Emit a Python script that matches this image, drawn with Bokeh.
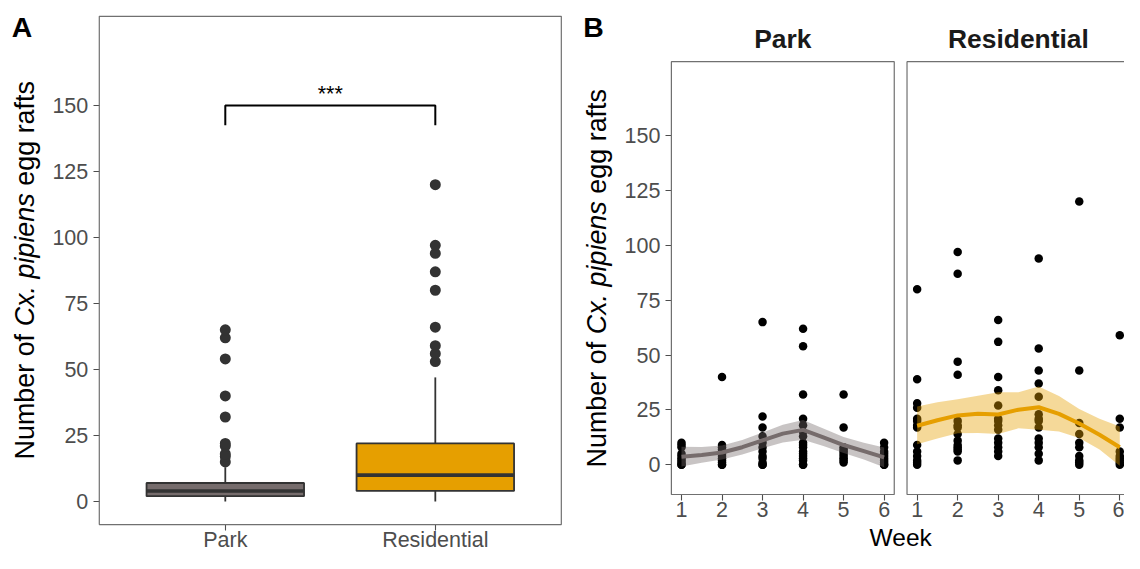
import math
from bokeh.plotting import figure
from bokeh.layouts import row
from bokeh.models import (FixedTicker, Label, BoxAnnotation, CustomJSTickFormatter,
                          ColumnDataSource)
from bokeh.embed import file_html
from bokeh.resources import INLINE

FONT = "Liberation Sans"

# ---------------- Panel A data (box-plot summary) ----------------
sites = ["Park", "Residential"]
box_q1 = [2, 4]
box_median = [4, 10]
box_q3 = [7, 22]
whisker_low = [0, 0]
whisker_high = [13, 47]
park_outliers = [15, 17, 18, 21, 22, 32, 40, 54, 62, 65]
res_outliers = [53, 56, 59, 66, 80, 87, 94, 97, 120]
sig_y = 150
sig_tip = 7.5
sig_label = "***"

# ---------------- Panel B data (egg rafts per week) ----------------
weeks = [1, 2, 3, 4, 5, 6]
park_wk1 = [10, 9, 8, 5, 4, 3, 2, 1, 0, 0]
park_wk2 = [40, 9, 8, 7, 6, 5, 4, 3, 2, 1, 0, 0]
park_wk3 = [65, 22, 17, 13, 10, 8, 6, 4, 3, 1, 0, 0]
park_wk4 = [62, 54, 32, 21, 18, 15, 13, 10, 9, 8, 6, 5, 4, 3, 2, 0, 0]
park_wk5 = [32, 17, 8, 7, 6, 5, 4, 3, 2, 1]
park_wk6 = [10, 8, 6, 5, 4, 3, 2, 1, 0, 0]

res_wk1 = [80, 39, 28, 26, 21, 20, 18, 17, 9, 6, 4, 2, 1, 0]
res_wk2 = [97, 87, 47, 41, 20, 18, 17, 14, 11, 9, 8, 7, 6, 2]
res_wk3 = [66, 56, 40, 34, 27, 21, 20, 18, 16, 12, 10, 8, 6, 4]
res_wk4 = [94, 53, 43, 37, 31, 23, 21, 20, 17, 12, 10, 8, 5, 2]
res_wk5 = [120, 43, 19, 14, 10, 8, 4, 2, 1, 0]
res_wk6 = [59, 21, 17, 6, 4, 3, 2, 1, 0]

# loess smooth (fit and confidence band)
fit_weeks = [1, 1.5, 2, 2.5, 3, 3.5, 4, 4.5, 5, 5.5, 6]
park_fit = [3.7, 4.5, 5.6, 8.0, 11.1, 14.2, 15.9, 12.5, 9.0, 6.2, 3.4]
park_lo = [-0.8, 0.9, 2.4, 4.7, 7.5, 10.2, 11.4, 8.5, 5.4, 2.4, -1.1]
park_hi = [8.2, 8.1, 8.8, 11.3, 14.7, 18.2, 20.4, 16.5, 12.6, 10.0, 7.9]
res_fit = [17.8, 20.3, 22.5, 23.2, 22.9, 25.1, 26.2, 23.2, 18.8, 13.7, 8.0]
res_lo = [9.3, 12.0, 14.4, 14.5, 14.0, 16.6, 15.9, 15.2, 12.2, 7.0, -0.5]
res_hi = [26.6, 28.5, 29.8, 31.5, 33.0, 33.0, 35.7, 31.3, 25.4, 21.0, 17.4]

y_ticks = [0, 25, 50, 75, 100, 125, 150]

PARK_COL = "#766c6c"
RES_COL = "#E69F00"
DARK = "#333333"
BORDER = "#707070"
TICK_COL = "#4d4d4d"

# ---------------- layout (reference pixels -> page pixels) ----------------
W_TOT, H = 1124, 553
SX, SY = W_TOT / 1140, H / 569
WA = round(575 * SX)
WB = W_TOT - WA
FS = (SX + SY) / 2            # font scale
BASE_K = 0.35                 # label baseline correction (fraction of font size)

# Panel A mapping: x=1 at ref px 228, 213 px/unit; y=0 at ref 515.5, 2.717 px/unit
A_X0, A_PPX, A_Y0, A_PPY = 228.0, 213.0, 515.5, 2.717
# Panel B mapping: week 1 at ref 690.7, 41.1 px/week; y=0 at ref 477.7, 2.258 px/unit
B_X0, B_PPX, B_Y0, B_PPY = 690.7, 41.1, 477.7, 2.258
FACET_OFF = (920 - 681) / B_PPX

A_PANEL_X = (0.4, 2.6)
A_PANEL_Y = (-8.75, 183.75)
B_PANEL_X = (0.75, 6.25)
B_PANEL_Y = (-13.55, 183.7)


def ax_(ref):  # ref px -> panel A data x
    return 1 + (ref - A_X0) / A_PPX


def ay_(ref):
    return (A_Y0 - ref) / A_PPY


def bx_(ref):
    return 1 + (ref - B_X0) / B_PPX


def by_(ref):
    return (B_Y0 - ref) / B_PPY


TITLE_PX = 27.5 * FS
TICK_PX = f"{22 * FS:.1f}px"


def make_fig(width, xr, yr):
    p = figure(width=width, height=H, x_range=xr, y_range=yr,
               output_backend="svg", toolbar_location=None,
               min_border=0, min_border_left=0, min_border_right=0,
               min_border_top=0, min_border_bottom=0)
    p.outline_line_color = None
    p.background_fill_color = "white"
    p.border_fill_color = "white"
    p.xgrid.grid_line_color = None
    p.ygrid.grid_line_color = None
    for ax in (p.xaxis, p.yaxis):
        ax.axis_line_color = None
        ax.minor_tick_line_color = None
        ax.major_tick_in = 0
        ax.major_tick_out = 6
        ax.major_tick_line_color = TICK_COL
        ax.major_tick_line_width = 1.1
        ax.major_label_text_font = FONT
        ax.major_label_text_font_size = TICK_PX
        ax.major_label_text_color = TICK_COL
    p.xaxis.major_label_standoff = 1
    p.yaxis.major_label_standoff = 5
    p.yaxis.ticker = FixedTicker(ticks=y_ticks)
    return p


def border(p, x0, x1, y0, y1):
    p.add_layout(BoxAnnotation(left=x0, right=x1, bottom=y0, top=y1,
                               fill_color=None, fill_alpha=0,
                               line_color=BORDER, line_alpha=1, line_width=1.2))


def text(p, x, y, s, size, style="normal", align="left", color="black",
         rotated=False, yoff=0.0):
    if rotated:
        angle, xo, yo = math.pi / 2, -BASE_K * size, yoff
    else:
        angle, xo, yo = 0.0, 0.0, yoff + BASE_K * size
    p.add_layout(Label(x=x, y=y, text=s, text_align=align, text_baseline="alphabetic",
                       text_font=FONT, text_font_size=f"{size:.1f}px",
                       text_font_style=style, text_color=color,
                       angle=angle, x_offset=xo, y_offset=yo))


def y_title(p, x, y_center, ppy_page):
    F = TITLE_PX
    parts = [("Number of", "normal", 0.0),
             ("Cx. pipiens", "italic", 4.946 * F),
             ("egg rafts", "normal", (4.946 * 2 + 0.278) * F)]
    L = 14.061 * F
    y0 = y_center - (L / 2) / ppy_page
    for s, style, off in parts:
        text(p, x, y0, s, F, style=style, rotated=True, yoff=off)


# ================= Panel A =================
a_xr = (ax_(0), ax_(WA / SX))
a_yr = (ay_(569), ay_(0))
pa = make_fig(WA, a_xr, a_yr)
pa.xaxis.fixed_location = A_PANEL_Y[0]
pa.yaxis.fixed_location = A_PANEL_X[0]
pa.xaxis.major_label_standoff = -3
pos = [i + 1 for i in range(len(sites))]
pa.xaxis.ticker = FixedTicker(ticks=pos)
pa.xaxis.major_label_overrides = {x: s for x, s in zip(pos, sites)}
border(pa, *A_PANEL_X, *A_PANEL_Y)

half = 0.375
src = ColumnDataSource(dict(
    x=pos, left=[x - half for x in pos], right=[x + half for x in pos],
    q1=box_q1, q3=box_q3, med=box_median, lo=whisker_low, hi=whisker_high,
    fill=[PARK_COL, RES_COL]))
pa.segment(x0="x", x1="x", y0="q3", y1="hi", source=src, line_color=DARK, line_width=1.8)
pa.segment(x0="x", x1="x", y0="lo", y1="q1", source=src, line_color=DARK, line_width=1.8)
pa.quad(left="left", right="right", bottom="q1", top="q3", source=src,
        fill_color="fill", line_color=DARK, line_width=1.8)
pa.segment(x0="left", x1="right", y0="med", y1="med", source=src,
           line_color=DARK, line_width=3.6)
pa.scatter(x=[pos[0]] * len(park_outliers), y=park_outliers, size=11,
           fill_color=DARK, line_color=None)
pa.scatter(x=[pos[1]] * len(res_outliers), y=res_outliers, size=11,
           fill_color=DARK, line_color=None)
pa.line(x=[pos[0], pos[0], pos[1], pos[1]],
        y=[sig_y - sig_tip, sig_y, sig_y, sig_y - sig_tip],
        line_color="black", line_width=2)
text(pa, (pos[0] + pos[1]) / 2, sig_y + 1.6, sig_label, 22 * FS, align="center")
text(pa, ax_(11.5), ay_(38), "A", 29 * FS, style="bold")
y_title(pa, ax_(34.5), ay_(277.5), A_PPY * SY)

# ================= Panel B =================
b_xr = (bx_(WA / SX), bx_(1140))
b_yr = (by_(569), by_(0))
pb = make_fig(WB, b_xr, b_yr)
pb.xaxis.fixed_location = B_PANEL_Y[0]
pb.yaxis.fixed_location = B_PANEL_X[0]
pb.xaxis.ticker = FixedTicker(ticks=weeks + [w + FACET_OFF for w in weeks])
pb.xaxis.formatter = CustomJSTickFormatter(
    args=dict(off=FACET_OFF),
    code="const w = tick > 6.5 ? tick - off : tick; return Math.round(w).toString();")

park_weeks = [park_wk1, park_wk2, park_wk3, park_wk4, park_wk5, park_wk6]
res_weeks = [res_wk1, res_wk2, res_wk3, res_wk4, res_wk5, res_wk6]
facets = [("Park", 0.0, park_weeks, park_fit, park_lo, park_hi, PARK_COL),
          ("Residential", FACET_OFF, res_weeks, res_fit, res_lo, res_hi, RES_COL)]
for name, off, per_week, fit, lo, hi, col in facets:
    xs, ys = [], []
    for w, vals in zip(weeks, per_week):
        xs += [w + off] * len(vals)
        ys += vals
    pb.scatter(x=xs, y=ys, size=8.5, fill_color="black", line_color=None)
    fx = [w + off for w in fit_weeks]
    pb.varea(x=fx, y1=lo, y2=hi, fill_color=col, fill_alpha=0.4)
    pb.line(x=fx, y=fit, line_color=col, line_width=4)
    border(pb, B_PANEL_X[0] + off, B_PANEL_X[1] + off, *B_PANEL_Y)
    text(pb, (B_PANEL_X[0] + B_PANEL_X[1]) / 2 + off, by_(49), name, 27 * FS,
         style="bold", align="center", color="#1a1a1a")

text(pb, bx_(591), by_(38), "B", 29 * FS, style="bold")
text(pb, bx_(913), by_(561.5), "Week", 25 * FS, align="center")
y_title(pb, bx_(614.5), by_(285.7), B_PPY * SY)

layout = row(pa, pb)
open("out.html", "w").write(file_html(layout, INLINE))
